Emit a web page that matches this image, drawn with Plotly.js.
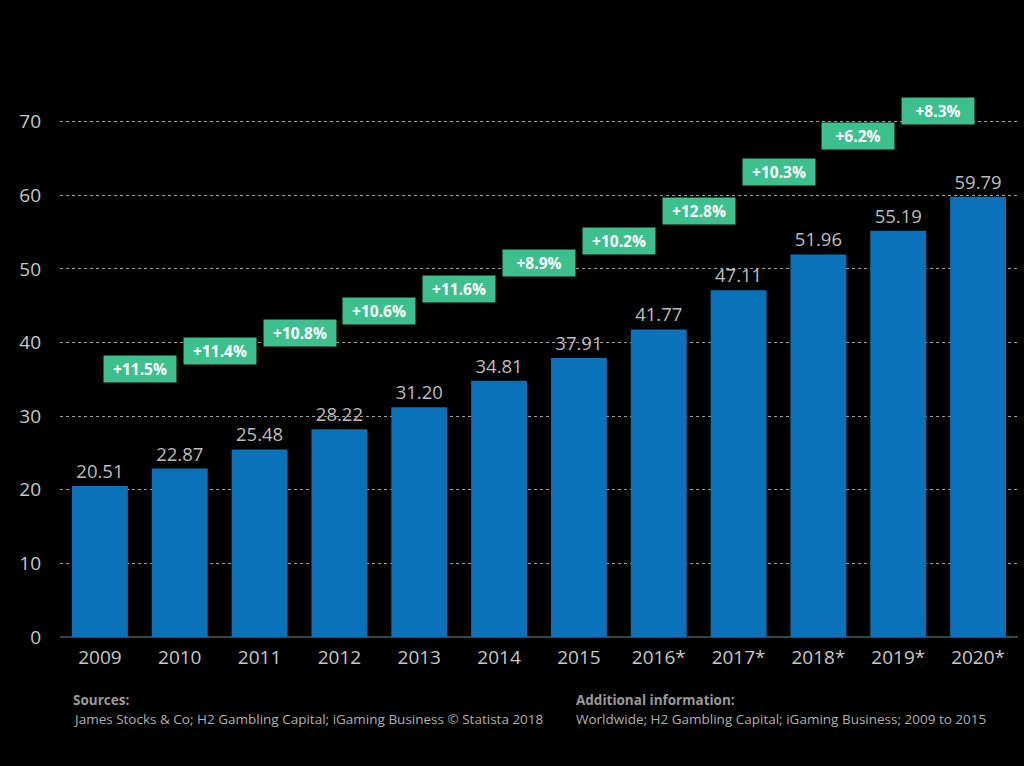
<!DOCTYPE html>
<html><head><meta charset="utf-8">
<script src="https://cdn.plot.ly/plotly-3.0.1.min.js"></script>
<style>html,body{margin:0;padding:0;background:#000;}#chart{width:1024px;height:766px;}</style>
</head><body><div id="chart"></div>
<script>
const years = ["2009","2010","2011","2012","2013","2014","2015","2016*","2017*","2018*","2019*","2020*"];
const revenue = [20.51,22.87,25.48,28.22,31.20,34.81,37.91,41.77,47.11,51.96,55.19,59.79];
const growthLabels = ["+11.5%","+11.4%","+10.8%","+10.6%","+11.6%","+8.9%","+10.2%","+12.8%","+10.3%","+6.2%","+8.3%"];
const growthY = [36.4,38.8,41.3,44.3,47.2,50.8,53.8,57.9,63.1,68.1,71.4];

const font = "'Open Sans', 'Noto Sans', sans-serif";
const ML = 60, MR = 6, MT = 48, MB = 129;
const annotations = growthLabels.map((t,i)=>({
  x: i+0.5, y: growthY[i], xref:'x', yref:'y', text:'<b>'+t+'</b>', showarrow:false,
  bgcolor:'#3dbf8e', font:{color:'#ffffff', size:15.5, family:font},
  width:64, height:18, borderpad:4
}));
const footer = [
  {px:72, py:700, text:'<b>Sources:</b>', color:'#9a9a9a'},
  {px:72, py:719, text:'James Stocks & Co; H2 Gambling Capital; iGaming Business © Statista 2018', color:'#b0b0b0'},
  {px:575, py:700, text:'<b>Additional information:</b>', color:'#9a9a9a'},
  {px:575, py:719, text:'Worldwide; H2 Gambling Capital; iGaming Business; 2009 to 2015', color:'#b0b0b0'}
];
const plotH = 766-MT-MB, plotW = 1024-ML-MR;
footer.forEach(f=>annotations.push({
  xref:'paper', yref:'paper', x:(f.px-ML)/plotW, y:(766-MB-f.py)/plotH,
  xanchor:'left', yanchor:'middle', showarrow:false, borderpad:0,
  text:f.text, font:{color:f.color, size:13.5, family:font}
}));
const layout = {
  width:1024, height:766,
  paper_bgcolor:'#000', plot_bgcolor:'#000',
  margin:{l:ML, r:MR, t:MT, b:MB},
  bargap:0.3,
  showlegend:false,
  font:{family:font, color:'#c8c8c8'},
  xaxis:{type:'category', tickfont:{size:19, color:'#c8c8c8'}, showgrid:false, showline:false, zeroline:false,
         ticks:'', ticklabelstandoff:7},
  yaxis:{range:[0,80], tickvals:[0,10,20,30,40,50,60,70], tickfont:{size:19, color:'#c8c8c8'},
         showgrid:true, gridcolor:'#a0a0a0', griddash:'dot', gridwidth:1,
         zeroline:true, zerolinecolor:'#2f4a42', zerolinewidth:1.5, showline:false, ticks:'', ticklabelstandoff:18},
  annotations: annotations
};
const trace = {
  type:'bar', x:years, y:revenue,
  marker:{color:'#0b72b9'},
  text: revenue.map(v=>v.toFixed(2)), textposition:'outside', cliponaxis:false,
  textfont:{size:18.5, color:'#bdbdbd', family:font},
  hoverinfo:'none'
};
Plotly.newPlot('chart',[trace],layout,{staticPlot:true});
</script></body></html>
